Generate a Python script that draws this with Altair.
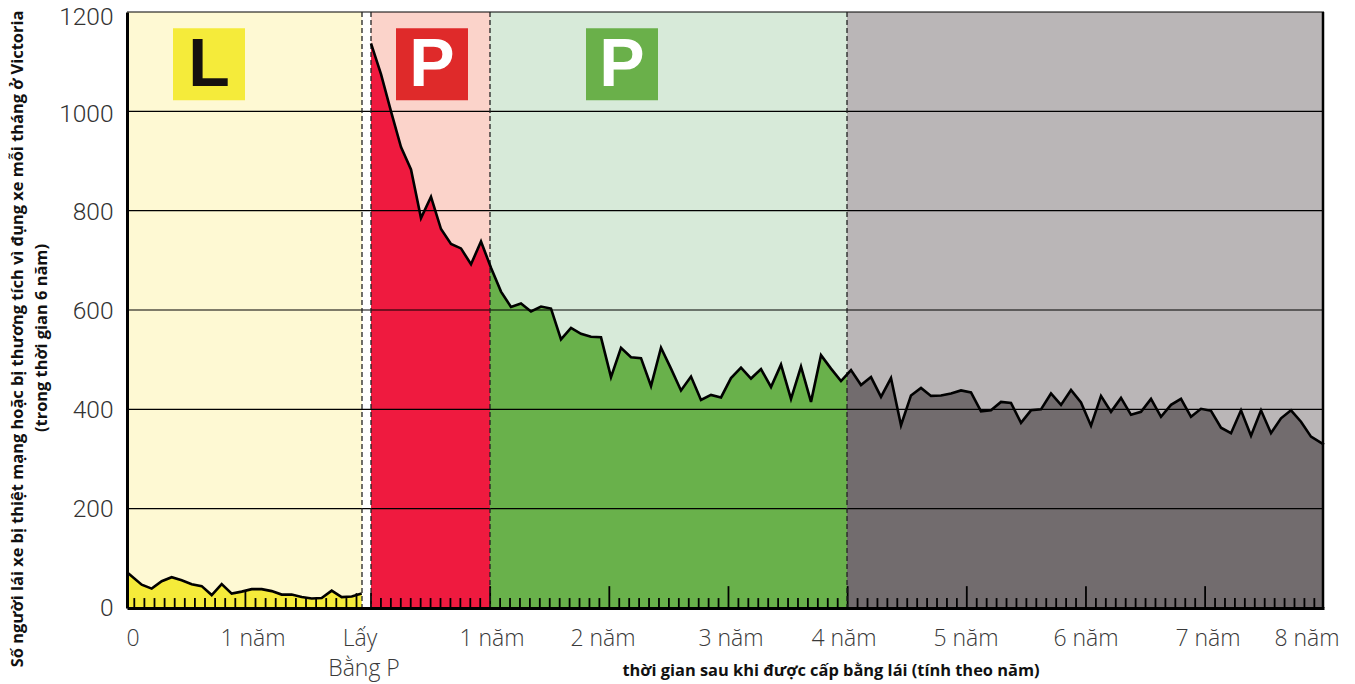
import altair as alt
import pandas as pd
import numpy as np

# ---- values (x in months-like units, y in drivers) ----
L_VALUES = [72, 47, 39, 54, 62, 56, 48, 44, 26, 48, 29, 33, 38, 38, 34, 27, 27, 22, 19, 20, 35, 22, 23, 29]
L_T = [0.0] + [i + 0.47 for i in range(1, 24)]

P_VALUES = [1137, 1075, 1000, 928, 883, 785, 828, 763, 733, 724, 692, 738,
            685, 637, 606, 613, 597, 607, 603, 541, 564, 552, 546, 545,
            465, 524, 505, 503, 447, 524, 482, 438, 466, 419, 429, 424,
            463, 484, 462, 481, 445, 490, 421, 486, 415, 509, 482, 457,
            479, 449, 465, 425, 463, 368, 428, 443, 427, 428, 432, 438,
            434, 396, 398, 415, 413, 373, 398, 400, 432, 409, 439, 414,
            367, 427, 395, 423, 389, 395, 421, 385, 409, 421, 385, 401,
            397, 363, 352, 398, 347, 398, 352, 382, 398, 375, 345, 329]
P_T = [24.4 + i for i in range(95)] + [119.7]

ZONE_START = [0.0, 24.4, 36.3, 72.0]
ZONE_END = [23.5, 36.3, 72.0, 119.7]
ZONE_BG = ["#FEF9D3", "#FBD3CA", "#D7EAD9", "#BAB6B7"]
AREA_COLOR = ["#F5EB3A", "#EF1A3F", "#69B14B", "#726C6E"]

DASHES = [23.5, 24.4, 36.3, 72.0]
GRID = [200, 400, 600, 800, 1000]
Y_TICKS = [0, 200, 400, 600, 800, 1000, 1200]

X_LABELS = ["0", "1 năm", "Lấy", "1 năm", "2 năm", "3 năm", "4 năm", "5 năm", "6 năm", "7 năm", "8 năm"]
X_LABEL_T = [0.6, 12.6, 23.3, 36.5, 47.6, 60.4, 71.7, 83.9, 95.9, 108.1, 118.0]

SIGN_T = [8.2, 30.5, 49.5]
SIGN_V = [1095, 1095, 1095]
SIGN_TEXT = ["L", "P", "P"]
SIGN_FILL = ["#F5EB3A", "#DF2A2A", "#6AB04A"]
SIGN_INK = ["#15100F", "#FFFFFF", "#FFFFFF"]

Y_TITLE_1 = "Số người lái xe bị thiệt mạng hoặc bị thương tích vì đụng xe mỗi tháng ở Victoria"
Y_TITLE_2 = "(trong thời gian 6 năm)"
X_TITLE = "thời gian sau khi được cấp bằng lái (tính theo năm)"

LIGHT = "Open Sans"
BOLD = "Open Sans"

xs = alt.Scale(domain=[0, 119.7], nice=False, zero=False)
ys = alt.Scale(domain=[0, 1200], nice=False)
x_axis = alt.Axis(title=None, labels=False, ticks=False, grid=False,
                  domainColor="#000000", domainWidth=3, zindex=1)
y_axis = alt.Axis(values=Y_TICKS, format="d", title=None, ticks=False, grid=False,
                  domainColor="#000000", domainWidth=3, labelFont="Roboto", labelFontWeight=300,
                  labelFontSize=24.5, labelColor="#333333", labelPadding=14, zindex=1,
                  labelOffset={"expr": "datum.value == 1200 ? 5 : datum.value * 0.0027"})
X = lambda f="t": alt.X(f"{f}:Q", scale=xs, axis=x_axis)
Y = lambda f="v": alt.Y(f"{f}:Q", scale=ys, axis=y_axis)

zones = pd.DataFrame({"a": ZONE_START, "b": ZONE_END, "c": ZONE_BG})
bg = alt.Chart(zones).mark_rect().encode(
    x=X("a"),
    x2="b:Q",
    color=alt.Color("c:N", scale=None),
)

# areas, each clipped to its own zone
pt, pv = np.array(P_T), np.array(P_VALUES, dtype=float)
area_layers = [
    alt.Chart(pd.DataFrame({"t": L_T, "v": L_VALUES})).mark_area(color=AREA_COLOR[0], opacity=1).encode(x=X(), y=Y())
]
for k in (1, 2, 3):
    a, b = ZONE_START[k], ZONE_END[k]
    m = (pt > a) & (pt < b)
    tt = [a] + list(pt[m]) + [b]
    vv = [float(np.interp(a, pt, pv))] + list(pv[m]) + [float(np.interp(b, pt, pv))]
    area_layers.append(
        alt.Chart(pd.DataFrame({"t": tt, "v": vv})).mark_area(color=AREA_COLOR[k], opacity=1).encode(x=X(), y=Y())
    )

grid = alt.Chart(pd.DataFrame({"v": GRID})).mark_rule(color="#000000", strokeWidth=1.2).encode(y=Y())
top = alt.Chart(pd.DataFrame({"v": [1200]})).mark_rule(color="#000000", strokeWidth=1.2).encode(y=Y())
right = alt.Chart(pd.DataFrame({"t": [119.6]})).mark_rule(color="#000000", strokeWidth=2.5).encode(x=X())

# tick marks along the base (heights in y units)
tick_t, tick_h = [], []
for i in range(23):
    tick_t.append(0.73 + i * 1.01)
    tick_h.append(34 if i == 11 else (30 if i == 22 else 20))
for i in range(0, 96):
    tick_t.append(24.4 + i * 0.993)
    tick_h.append(30 if i == 0 else (44 if i % 12 == 0 else 20))
ticks = alt.Chart(pd.DataFrame({"t": tick_t, "h": tick_h, "z": [0] * len(tick_t)})).mark_rule(
    color="#000000", strokeWidth=1.8
).encode(x=X(), y=Y("z"), y2="h:Q")

dashes = alt.Chart(pd.DataFrame({"t": DASHES})).mark_rule(
    color="#222222", strokeWidth=1.3, strokeDash=[5, 3]
).encode(x=X())

line_l = alt.Chart(pd.DataFrame({"t": L_T, "v": L_VALUES})).mark_line(color="#000000", strokeWidth=2.6).encode(x=X(), y=Y())
line_p = alt.Chart(pd.DataFrame({"t": P_T, "v": P_VALUES})).mark_line(color="#000000", strokeWidth=2.6).encode(x=X(), y=Y())

signs_df = pd.DataFrame({"t": SIGN_T, "v": SIGN_V, "s": SIGN_TEXT, "f": SIGN_FILL, "i": SIGN_INK})
signs = alt.Chart(signs_df).mark_square(size=5184, opacity=1, filled=True).encode(
    x=X(), y=Y(), color=alt.Color("f:N", scale=None)
)
letters = alt.Chart(signs_df).mark_text(font="Liberation Sans", fontWeight="bold", fontSize=68, baseline="middle", dy=2).encode(
    x=X(), y=Y(), text="s:N", color=alt.Color("i:N", scale=None)
)

xlab = alt.Chart(pd.DataFrame({"t": X_LABEL_T, "s": X_LABELS})).mark_text(
    font=LIGHT, fontWeight=300, fontSize=23, color="#3A3A3A", baseline="middle"
).encode(x=X(), y=alt.value(627), text="s:N")
xlab2 = alt.Chart(pd.DataFrame({"t": [23.7], "s": ["Bằng P"]})).mark_text(
    font=LIGHT, fontWeight=300, fontSize=23, color="#3A3A3A", baseline="middle"
).encode(x=X(), y=alt.value(657), text="s:N")
xtitle = alt.Chart(pd.DataFrame({"t": [70.4], "s": [X_TITLE]})).mark_text(
    font=BOLD, fontWeight="bold", fontSize=16.4, color="#111111", baseline="middle"
).encode(x=X(), y=alt.value(659), text="s:N")
yt1 = alt.Chart(pd.DataFrame({"s": [Y_TITLE_1]})).mark_text(
    font=BOLD, fontWeight="bold", fontSize=16.4, color="#111111", baseline="middle", angle=270
).encode(x=alt.value(-109), y=alt.value(327), text="s:N")
yt2 = alt.Chart(pd.DataFrame({"s": [Y_TITLE_2]})).mark_text(
    font=BOLD, fontWeight="bold", fontSize=16.4, color="#111111", baseline="middle", angle=270
).encode(x=alt.value(-85), y=alt.value(326), text="s:N")

chart = alt.layer(
    bg, *area_layers, grid, top, right, ticks, dashes, line_l, line_p, signs, letters,
    xlab, xlab2, xtitle, yt1, yt2
).properties(
    width=1197, height=596,
    autosize=alt.AutoSizeParams(type="none"),
    padding={"left": 119, "top": 4, "right": 23, "bottom": 76},
).configure_view(stroke=None)

chart.save("out.html", embed_options={"renderer": "svg", "actions": False})
